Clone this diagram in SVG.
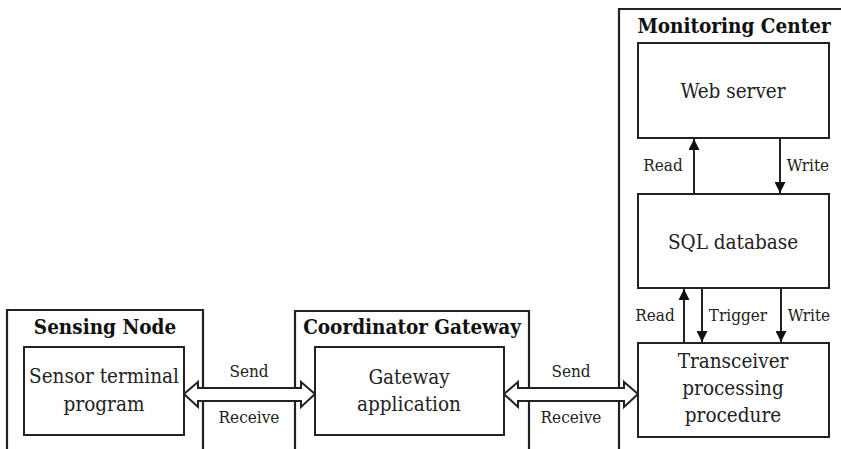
<svg xmlns="http://www.w3.org/2000/svg" width="841" height="449" viewBox="0 0 841 449">
<style>
.outer{fill:none;stroke:#222;stroke-width:2.2}
.box{fill:#fff;stroke:#222;stroke-width:2}
.title{font-family:"DejaVu Serif Condensed","DejaVu Serif",serif;font-weight:bold;font-size:20.5px;fill:#111;text-anchor:middle}
.t{font-family:"DejaVu Serif Condensed","DejaVu Serif",serif;font-size:20.5px;fill:#222;text-anchor:middle}
.lbl{font-family:"DejaVu Serif Condensed","DejaVu Serif",serif;font-size:17px;fill:#222;text-anchor:middle}
.line{stroke:#222;stroke-width:2;fill:none}
.dbl{fill:#fff;stroke:#222;stroke-width:2;stroke-linejoin:miter}
</style>
<defs>
<marker id="ah" viewBox="0 0 10 10" refX="10" refY="5" markerWidth="6.5" markerHeight="5.5" orient="auto" markerUnits="strokeWidth">
<path d="M0,0 L10,5 L0,10 Z" fill="#111"/>
</marker>
</defs>
<rect width="841" height="449" fill="#fff"/>
<g id="sensing-node">
<path class="outer" d="M7,452 V310 H203 V452"/>
<text class="title" x="105" y="334">Sensing Node</text>
</g>
<g id="coordinator-gateway">
<path class="outer" d="M295,452 V311 H529 V452"/>
<text class="title" x="412" y="334">Coordinator Gateway</text>
</g>
<g id="monitoring-center">
<path class="outer" d="M619,452 V9 H845"/>
<text class="title" x="734" y="33">Monitoring Center</text>
</g>
<g id="connectors">
<path class="dbl" d="M184,394 L198,382 L198,388 L301,388 L301,382 L315,394 L301,407 L301,401 L198,401 L198,407 Z"/>
<path class="dbl" d="M504,394 L518,382 L518,388 L624,388 L624,382 L638,394 L624,407 L624,401 L518,401 L518,407 Z"/>
<line class="line" x1="694" y1="194" x2="694" y2="139" marker-end="url(#ah)"/>
<line class="line" x1="780" y1="138" x2="780" y2="193" marker-end="url(#ah)"/>
<line class="line" x1="684" y1="343" x2="684" y2="289" marker-end="url(#ah)"/>
<line class="line" x1="702" y1="288" x2="702" y2="342" marker-end="url(#ah)"/>
<line class="line" x1="781" y1="288" x2="781" y2="342" marker-end="url(#ah)"/>
<text class="lbl" x="249" y="377">Send</text>
<text class="lbl" x="249" y="423">Receive</text>
<text class="lbl" x="571" y="377">Send</text>
<text class="lbl" x="571" y="423">Receive</text>
<text class="lbl" x="663" y="171">Read</text>
<text class="lbl" x="808" y="171">Write</text>
<text class="lbl" x="655" y="321">Read</text>
<text class="lbl" x="738" y="321">Trigger</text>
<text class="lbl" x="809" y="321">Write</text>
</g>
<g id="sensor-terminal-program">
<rect class="box" x="24" y="347" width="160" height="88"/>
<text class="t" x="104" y="383">Sensor terminal</text>
<text class="t" x="104" y="411">program</text>
</g>
<g id="gateway-application">
<rect class="box" x="315" y="347" width="189" height="88"/>
<text class="t" x="409" y="384">Gateway</text>
<text class="t" x="409" y="411">application</text>
</g>
<g id="web-server">
<rect class="box" x="638" y="43" width="191" height="95"/>
<text class="t" x="733" y="98">Web server</text>
</g>
<g id="sql-database">
<rect class="box" x="638" y="194" width="191" height="94"/>
<text class="t" x="733" y="249">SQL database</text>
</g>
<g id="transceiver">
<rect class="box" x="638" y="343" width="191" height="94"/>
<text class="t" x="733" y="368">Transceiver</text>
<text class="t" x="733" y="395">processing</text>
<text class="t" x="733" y="422">procedure</text>
</g>
</svg>
